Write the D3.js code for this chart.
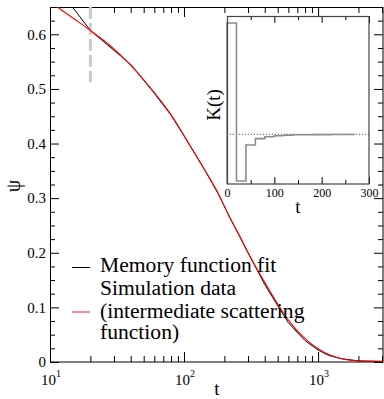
<!DOCTYPE html>
<html>
<head>
<meta charset="utf-8">
<script src="https://cdn.jsdelivr.net/npm/d3@7"></script>
<style>
  body { margin: 0; background: #fff; }
  svg text { font-family: "Liberation Serif", "Tinos", "Nimbus Roman", "Nimbus Roman No9 L", "FreeSerif", "DejaVu Serif", "Noto Serif", "Times New Roman", Times, serif !important; fill: #000; }
</style>
</head>
<body>
<svg id="chart"></svg>
<script>
const width = 384;
const height = 399;

// Simulation data (intermediate scattering function)
const simT   = [10, 11.5, 15, 20, 28, 38, 53, 79, 105, 136, 175, 220, 262, 294, 391, 492, 600, 824, 1230, 1940, 3050];
const simPsi = [0.662, 0.649, 0.629, 0.607, 0.5795, 0.549, 0.5095, 0.4547, 0.4059, 0.3601, 0.3144, 0.2642, 0.2291, 0.2048, 0.1499, 0.109, 0.0768, 0.0402, 0.0128, 0.0024, 0.0015];

// Memory function fit
const fitT   = [13.5, 20, 40, 60, 80, 100, 140, 180, 220, 260, 300, 400, 500, 600, 700, 800, 1000, 1200, 1500, 2000, 3050];
const fitPsi = [0.662, 0.607, 0.545, 0.492, 0.452, 0.414, 0.355, 0.308, 0.264, 0.230, 0.200, 0.142, 0.103, 0.072, 0.054, 0.039, 0.022, 0.012, 0.006, 0.002, 0.001];

// Memory kernel K(t) (inset), step values
const kT   = [0, 0, 20, 40, 60, 80, 100, 120, 140, 160, 180, 200, 220, 240, 270];
const kVal = [-0.447, 1.0, -0.42, -0.096, -0.039, -0.022, -0.013, -0.008, -0.005, -0.004, -0.003, -0.003, -0.002, -0.002, -0.002];

const yMajor = [0, 0.1, 0.2, 0.3, 0.4, 0.5, 0.6];
const xMajor = [10, 100, 1000];
const xMinor = [20, 30, 40, 50, 60, 70, 80, 90, 200, 300, 400, 500, 600, 700, 800, 900, 2000, 3000];
const insetMajor = [0, 100, 200, 300];
const insetMinor = [50, 150, 250];
const legendLabels = ["Memory function fit", "Simulation data", "(intermediate scattering", "function)"];

const serif = "Liberation Serif, Tinos, Nimbus Roman, FreeSerif, DejaVu Serif, Times New Roman, serif";

const svg = d3.select("#chart")
    .attr("width", width)
    .attr("height", height)
    .attr("font-family", serif);

const x = d3.scaleLog().domain([10, 3050]).range([50, 383]);
const y = d3.scaleLinear().domain([0, 0.65]).range([362, 7]);

// clip for the curves
svg.append("defs").append("clipPath").attr("id", "plotClip")
    .append("rect")
    .attr("x", 50).attr("y", 7)
    .attr("width", 333).attr("height", 355);

// y minor tick positions
const yMinor = d3.range(0, 0.65, 0.025).filter(v => Math.abs(v * 10 - Math.round(v * 10)) > 1e-6);

function styleAxis(g) {
    g.attr("font-family", serif);
    g.select(".domain").remove();
    g.selectAll("line").attr("stroke", "#000");
}

// left axis
svg.append("g").attr("transform", "translate(50,0)")
    .call(d3.axisLeft(y).tickValues(yMajor).tickSize(-9).tickPadding(4)
        .tickFormat(d => d === 0 ? "0" : d.toFixed(1)))
    .call(styleAxis)
    .selectAll("text").attr("font-size", 15);
svg.append("g").attr("transform", "translate(50,0)")
    .call(d3.axisLeft(y).tickValues(yMinor).tickSize(-5).tickFormat(""))
    .call(styleAxis);

// right axis
svg.append("g").attr("transform", "translate(383,0)")
    .call(d3.axisRight(y).tickValues(yMajor).tickSize(-9).tickFormat(""))
    .call(styleAxis);
svg.append("g").attr("transform", "translate(383,0)")
    .call(d3.axisRight(y).tickValues(yMinor).tickSize(-5).tickFormat(""))
    .call(styleAxis);

// bottom + top axes
svg.append("g").attr("transform", "translate(0,362)")
    .call(d3.axisBottom(x).tickValues(xMajor).tickSize(-10).tickFormat(""))
    .call(styleAxis);
svg.append("g").attr("transform", "translate(0,362)")
    .call(d3.axisBottom(x).tickValues(xMinor).tickSize(-6).tickFormat(""))
    .call(styleAxis);
svg.append("g").attr("transform", "translate(0,7)")
    .call(d3.axisTop(x).tickValues(xMajor).tickSize(-10).tickFormat(""))
    .call(styleAxis);
svg.append("g").attr("transform", "translate(0,7)")
    .call(d3.axisTop(x).tickValues(xMinor).tickSize(-6).tickFormat(""))
    .call(styleAxis);

// x tick labels as powers of ten
const xl = svg.append("g").selectAll("text")
    .data(xMajor)
    .enter()
    .append("text")
    .attr("x", d => x(d) + 1)
    .attr("y", 385)
    .attr("text-anchor", "middle")
    .attr("font-size", 15);
xl.append("tspan").text("10");
xl.append("tspan").attr("font-size", 10).attr("dy", -8).text(d => Math.round(Math.log10(d)));

// frame
svg.append("rect")
    .attr("x", 50.5).attr("y", 7.5)
    .attr("width", 332.5).attr("height", 354.5)
    .attr("fill", "none").attr("stroke", "#000").attr("stroke-width", 1);

// axis titles
svg.append("text").attr("x", 217).attr("y", 395)
    .attr("text-anchor", "middle").attr("font-size", 19).text("t");
svg.append("text").attr("transform", "translate(20,186) rotate(-90)")
    .attr("text-anchor", "middle").attr("font-size", 20).text("ψ");

// dashed marker at t = 20
svg.append("line")
    .attr("x1", x(20)).attr("x2", x(20))
    .attr("y1", y(0.65)).attr("y2", y(0.512))
    .attr("stroke", "#cccccc").attr("stroke-width", 3)
    .attr("stroke-dasharray", "12,4");

const curves = svg.append("g").attr("clip-path", "url(#plotClip)");

const fitLine = d3.line().x(d => x(d[0])).y(d => y(d[1]));
const simLine = d3.line().x(d => x(d[0])).y(d => y(d[1])).curve(d3.curveMonotoneX);

curves.append("path")
    .datum(fitT.map((t, i) => [t, fitPsi[i]]))
    .attr("d", fitLine)
    .attr("fill", "none").attr("stroke", "#000").attr("stroke-width", 1);

curves.append("path")
    .datum(simT.map((t, i) => [t, simPsi[i]]))
    .attr("d", simLine)
    .attr("fill", "none").attr("stroke", "#ff0000").attr("stroke-width", 1.1);

// legend
const legend = svg.append("g");
legend.append("line").attr("x1", 72).attr("x2", 90).attr("y1", 267.5).attr("y2", 267.5)
    .attr("stroke", "#000").attr("stroke-width", 1);
legend.append("line").attr("x1", 72).attr("x2", 90).attr("y1", 312).attr("y2", 312)
    .attr("stroke", "#ff8c8c").attr("stroke-width", 2);
const legendY = [271.5, 294.5, 317.5, 339];
legend.selectAll("text")
    .data(legendLabels)
    .enter()
    .append("text")
    .attr("x", 100)
    .attr("y", (d, i) => legendY[i])
    .attr("font-size", 21.6)
    .text(d => d);

// inset
const xi = d3.scaleLinear().domain([0, 300]).range([227, 369]);
const yi = d3.scaleLinear().domain([-0.447, 1.063]).range([184, 16]);

const inset = svg.append("g");
inset.append("rect")
    .attr("x", 227.5).attr("y", 16.5)
    .attr("width", 141.5).attr("height", 167.5)
    .attr("fill", "#fff");

inset.append("line")
    .attr("x1", xi(6)).attr("x2", xi(300))
    .attr("y1", yi(0)).attr("y2", yi(0))
    .attr("stroke", "#333").attr("stroke-width", 1)
    .attr("stroke-dasharray", "1,2");

inset.append("path")
    .datum(kT.map((t, i) => [t, kVal[i]]))
    .attr("d", d3.line().x(d => xi(d[0])).y(d => yi(d[1])).curve(d3.curveStepAfter))
    .attr("fill", "none").attr("stroke", "#8c8c8c").attr("stroke-width", 1.6);

inset.append("g").attr("transform", "translate(0,184)")
    .call(d3.axisBottom(xi).tickValues(insetMajor).tickSize(-7).tickPadding(4))
    .call(styleAxis)
    .selectAll("text").attr("font-size", 12);
inset.append("g").attr("transform", "translate(0,184)")
    .call(d3.axisBottom(xi).tickValues(insetMinor).tickSize(-4).tickFormat(""))
    .call(styleAxis);
inset.append("g").attr("transform", "translate(0,16)")
    .call(d3.axisTop(xi).tickValues(insetMajor).tickSize(-7).tickFormat(""))
    .call(styleAxis);
inset.append("g").attr("transform", "translate(0,16)")
    .call(d3.axisTop(xi).tickValues(insetMinor).tickSize(-4).tickFormat(""))
    .call(styleAxis);

inset.append("rect")
    .attr("x", 227.5).attr("y", 16.5)
    .attr("width", 141.5).attr("height", 167.5)
    .attr("fill", "none").attr("stroke", "#444").attr("stroke-width", 1.2);

inset.append("text").attr("x", 298).attr("y", 213)
    .attr("text-anchor", "middle").attr("font-size", 19).text("t");
inset.append("text").attr("transform", "translate(220,105) rotate(-90)")
    .attr("text-anchor", "middle").attr("font-size", 19).text("K(t)");
</script>
</body>
</html>
